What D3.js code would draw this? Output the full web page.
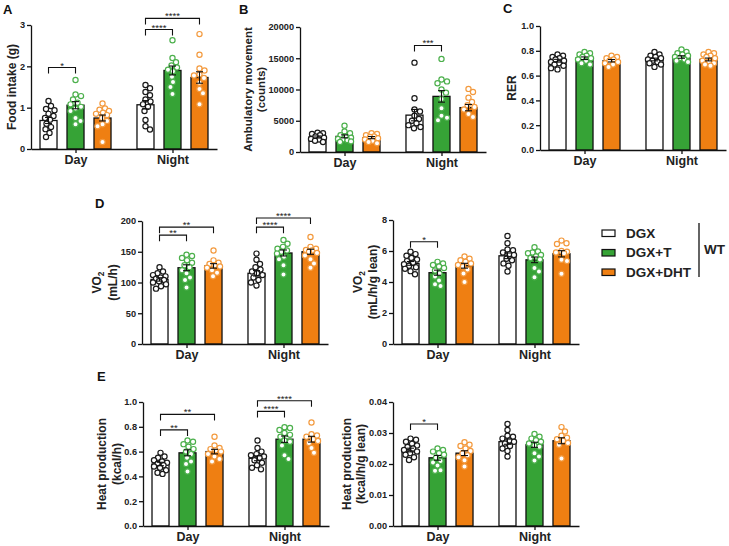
<!DOCTYPE html>
<html><head><meta charset="utf-8">
<script src="https://cdn.jsdelivr.net/npm/d3@7"></script>
<style>
html,body{margin:0;padding:0;background:#fff;}
svg{display:block;font-family:"Liberation Sans",Arial,sans-serif;}
</style></head>
<body>
<svg id="chart" width="729" height="546"></svg>
<script>
// ---------- data ----------
const groups = ["Day", "Night"];
const seriesNames = ["DGX", "DGX+T", "DGX+DHT"];
const barColors = ["#ffffff", "#36a336", "#ef7f12"];
const dotColors = ["#1a1a1a", "#4cb04c", "#f39a3e"];

// A: Food intake (g)
const foodTicks = [0, 1, 2, 3];
const foodMeans = [[0.69, 1.06, 0.75], [1.07, 1.90, 1.73]];
const foodDots = [
  [[1.16,1.04,0.97,0.94,0.85,0.8,0.75,0.71,0.61,0.53,0.48,0.39,0.29],
   [1.67,1.32,1.28,1.2,1.12,1.08,1.02,0.98,0.92,0.75,0.68,0.6],
   [1.1,0.98,0.95,0.92,0.88,0.85,0.82,0.75,0.68,0.6,0.55,0.17]],
  [[1.55,1.47,1.38,1.3,1.2,1.15,1.08,1.02,0.92,0.7,0.55,0.47],
   [2.63,2.2,2.1,2.02,1.97,1.92,1.88,1.75,1.62,1.5,1.33],
   [2.78,2.28,1.95,1.9,1.8,1.78,1.72,1.6,1.45,1.35,1.08]]
];
const foodSig = [[0,0,1,1.97,"*"],[1,0,1,2.89,"****"],[1,0,2,3.16,"****"]];

// B: Ambulatory movement (counts)
const ambTicks = [0, 5000, 10000, 15000, 20000];
const ambMeans = [[2400, 2500, 2300], [5900, 8900, 7100]];
const ambDots = [
  [[3100,3000,2900,2700,2500,2300,2100,2000,1800,1600],
   [4200,3300,3000,2700,2500,2300,2100,2000,1900,1700,1600],
   [3000,2900,2700,2500,2400,2200,2000,1800,1600,1400]],
  [[14300,8600,6800,6500,5800,5300,5000,4600,4300,4000,3800],
   [14900,11600,11300,11000,10000,9500,8500,7000,5800,5500,5100],
   [10100,9600,8700,8000,7500,7200,6800,6100,5600]]
];
const ambSig = [[1,0,1,17050,"***"]];

// C: RER
const rerTicks = [0, 0.2, 0.4, 0.6, 0.8, 1.0];
const rerMeans = [[0.72, 0.74, 0.72], [0.73, 0.75, 0.73]];
const rerDots = [
  [[0.77,0.76,0.75,0.74,0.73,0.72,0.71,0.70,0.69,0.68,0.66,0.65],
   [0.79,0.78,0.77,0.76,0.75,0.74,0.73,0.72,0.70,0.69],
   [0.76,0.75,0.74,0.73,0.72,0.71,0.70,0.69,0.67]],
  [[0.79,0.77,0.76,0.75,0.74,0.73,0.72,0.71,0.70,0.69,0.67],
   [0.81,0.79,0.78,0.77,0.76,0.75,0.74,0.73,0.72,0.71],
   [0.79,0.78,0.77,0.76,0.75,0.74,0.72,0.71,0.70,0.69,0.68]]
];
const rerSig = [];

// D left: VO2 (mL/h)
const vo2Ticks = [0, 50, 100, 150, 200];
const vo2Means = [[105, 124, 127], [115, 148, 150]];
const vo2Dots = [
  [[125,118,115,112,110,108,106,104,102,100,97,94,90],
   [145,143,140,136,132,128,125,120,115,108,104,92],
   [152,136,132,130,128,126,124,120,116,110]],
  [[147,137,130,125,121,118,115,112,108,104,100,95],
   [169,163,158,155,152,150,147,142,138,128,113],
   [174,158,155,153,152,150,148,144,138,131,124]]
];
const vo2Sig = [[0,0,1,177,"**"],[0,0,2,190,"**"],[1,0,1,190,"****"],[1,0,2,205,"****"]];

// D right: VO2 (mL/h/g lean)
const vo2LeanTicks = [0, 2, 4, 6, 8];
const vo2LeanMeans = [[5.2, 4.6, 5.05], [5.69, 5.43, 5.82]];
const vo2LeanDots = [
  [[5.95,5.8,5.7,5.55,5.45,5.35,5.25,5.15,5.05,4.95,4.85,4.7,4.5],
   [5.3,5.2,5.1,5.0,4.9,4.75,4.55,4.35,4.1,3.85,3.75],
   [5.65,5.5,5.4,5.3,5.2,5.1,5.0,4.8,4.55,4.0]],
  [[6.97,6.5,6.1,6.05,5.9,5.8,5.75,5.5,5.4,5.2,5.05,4.68],
   [6.24,5.97,5.9,5.85,5.75,5.64,5.55,5.45,4.9,4.68,4.3],
   [6.67,6.5,6.45,6.0,5.95,5.9,5.85,5.43,5.35,4.53]]
];
const vo2LeanSig = [[0,0,1,6.6,"*"]];

// E left: Heat production (kcal/h)
const heatTicks = [0, 0.2, 0.4, 0.6, 0.8, 1.0];
const heatMeans = [[0.50, 0.59, 0.60], [0.546, 0.70, 0.70]];
const heatDots = [
  [[0.59,0.56,0.55,0.53,0.52,0.51,0.50,0.49,0.48,0.47,0.45,0.43,0.42],
   [0.69,0.68,0.66,0.64,0.62,0.60,0.58,0.55,0.52,0.50,0.44],
   [0.72,0.65,0.63,0.62,0.61,0.60,0.58,0.56,0.54,0.52]],
  [[0.69,0.63,0.6,0.58,0.57,0.56,0.55,0.53,0.51,0.49,0.47,0.457],
   [0.797,0.79,0.775,0.75,0.735,0.72,0.69,0.68,0.65,0.57,0.54],
   [0.835,0.74,0.73,0.72,0.7,0.685,0.67,0.63,0.59]]
];
const heatSig = [[0,0,1,0.775,"**"],[0,0,2,0.9,"**"],[1,0,1,0.924,"****"],[1,0,2,1.01,"****"]];

// E right: Heat production (kcal/h/g lean)
const heatLeanTicks = [0, 0.01, 0.02, 0.03, 0.04];
const heatLeanMeans = [[0.0245, 0.022, 0.0235], [0.0272, 0.0262, 0.0275]];
const heatLeanDots = [
  [[0.0282,0.0278,0.0272,0.0265,0.026,0.0255,0.025,0.0245,0.024,0.0235,0.023,0.0222,0.0213],
   [0.025,0.0245,0.024,0.0235,0.023,0.022,0.021,0.0205,0.0195,0.018,0.0178],
   [0.027,0.0262,0.0258,0.025,0.0242,0.0235,0.0228,0.0222,0.0212,0.0192]],
  [[0.0329,0.031,0.0291,0.0288,0.0282,0.0276,0.0272,0.0266,0.0258,0.025,0.0242,0.0224],
   [0.0297,0.0288,0.0282,0.0277,0.0272,0.0266,0.026,0.0256,0.0235,0.0224,0.0211],
   [0.0319,0.0305,0.0291,0.0285,0.028,0.0275,0.0268,0.0262,0.0218]]
];
const heatLeanSig = [[0,0,1,0.0329,"*"]];

// ---------- layout ----------
const panels = [
  {letter:"A", lx:3, ly:14, x0:31, yTop:25, yBot:149, ticks:foodTicks, fmt:d3.format("d"),
   means:foodMeans, dots:foodDots, sig:foodSig, labels:[["Food intake (g)",16,12]]},
  {letter:"B", lx:239, ly:14, x0:300, yTop:27, yBot:152, ticks:ambTicks, fmt:d3.format("d"),
   means:ambMeans, dots:ambDots, sig:ambSig, labels:[["Ambulatory movement",252,11.5],["(counts)",265,11.5]]},
  {letter:"C", lx:503, ly:13, x0:540, yTop:26, yBot:150, ticks:rerTicks, fmt:d3.format(".1f"),
   means:rerMeans, dots:rerDots, sig:rerSig, labels:[["RER",516,12]]},
  {letter:"D", lx:95, ly:208, x0:142, yTop:221, yBot:344, ticks:vo2Ticks, fmt:d3.format("d"),
   means:vo2Means, dots:vo2Dots, sig:vo2Sig, labels:[["VO2",100.5,12],["(mL/h)",117,12]]},
  {letter:"", x0:393, yTop:220, yBot:344, ticks:vo2LeanTicks, fmt:d3.format("d"),
   means:vo2LeanMeans, dots:vo2LeanDots, sig:vo2LeanSig, labels:[["VO2",361.5,12],["(mL/h/g lean)",377,12]]},
  {letter:"E", lx:97, ly:381, x0:143, yTop:402, yBot:526, ticks:heatTicks, fmt:d3.format(".1f"),
   means:heatMeans, dots:heatDots, sig:heatSig, labels:[["Heat production",105.5,12],["(kcal/h)",120.5,12]]},
  {letter:"", x0:393, yTop:402, yBot:526, ticks:heatLeanTicks, fmt:d3.format(".2f"),
   means:heatLeanMeans, dots:heatLeanDots, sig:heatLeanSig, labels:[["Heat production",350.5,12],["(kcal/h/g lean)",365,12]]}
];

const svg = d3.select("#chart");
const AXW = 186, R = 2.6;

function beeswarm(vals, y, maxOff) {
  const pts = vals.map(v => ({v, y: y(v)})).sort((a, b) => a.y - b.y);
  const placed = [];
  const d = 2 * R + 0.2;
  const cands = [0];
  for (let k = 1; k <= 40; k++) { cands.push(k * 0.5, -k * 0.5); }
  for (const p of pts) {
    let best = null, bestScore = -Infinity;
    for (const c of cands) {
      if (Math.abs(c) > maxOff) continue;
      const m = placed.length ? d3.min(placed, q => Math.hypot(q.x - c, q.y - p.y)) : Infinity;
      if (m >= d) { best = c; break; }
      if (m > bestScore) { bestScore = m; best = c; }
    }
    p.x = best;
    placed.push(p);
  }
  return pts;
}

panels.forEach(P => {
  const g = svg.append("g");
  const yMax = P.ticks[P.ticks.length - 1];
  const y = d3.scaleLinear().domain([0, yMax]).range([P.yBot, P.yTop]);
  const xg = d3.scalePoint().domain(groups).range([P.x0, P.x0 + AXW]).padding(0.459);
  const xs = d3.scaleBand().domain(seriesNames).range([-40.5, 40.5]).paddingInner(0.37).paddingOuter(0.185);
  const bw = xs.bandwidth();

  // bars
  groups.forEach((grp, gi) => {
    seriesNames.forEach((s, si) => {
      const m = P.means[gi][si];
      const bx = xg(grp) + xs(s);
      g.append("rect").attr("x", bx).attr("y", y(m)).attr("width", bw).attr("height", P.yBot - y(m))
        .attr("fill", barColors[si]).attr("stroke", "#111").attr("stroke-width", 1.3);
    });
  });

  // dots
  groups.forEach((grp, gi) => {
    seriesNames.forEach((s, si) => {
      const cx = xg(grp) + xs(s) + bw / 2;
      const pts = beeswarm(P.dots[gi][si], y, 6.5);
      g.selectAll(null).data(pts).enter().append("circle")
        .attr("cx", p => cx + p.x).attr("cy", p => p.y).attr("r", R)
        .attr("fill", "#fff").attr("stroke", dotColors[si]).attr("stroke-width", 1.2);
    });
  });

  // error bars (mean ± SEM from points)
  groups.forEach((grp, gi) => {
    seriesNames.forEach((s, si) => {
      const vals = P.dots[gi][si];
      const sem = d3.deviation(vals) / Math.sqrt(vals.length);
      const m = P.means[gi][si];
      const cx = xg(grp) + xs(s) + bw / 2;
      const e = g.append("g").attr("stroke", "#111").attr("stroke-width", 1.1);
      e.append("line").attr("x1", cx).attr("x2", cx).attr("y1", y(m - sem)).attr("y2", y(m + sem));
      e.append("line").attr("x1", cx - 3.5).attr("x2", cx + 3.5).attr("y1", y(m + sem)).attr("y2", y(m + sem));
      e.append("line").attr("x1", cx - 3.5).attr("x2", cx + 3.5).attr("y1", y(m - sem)).attr("y2", y(m - sem));
    });
  });

  // y axis
  const ya = g.append("g").attr("transform", `translate(${P.x0},0)`)
    .call(d3.axisLeft(y).tickValues(P.ticks).tickFormat(P.fmt).tickSize(4).tickSizeOuter(0));
  ya.select(".domain").attr("stroke", "#111").attr("stroke-width", 1.3);
  ya.selectAll(".tick line").attr("stroke", "#111").attr("stroke-width", 1.3);
  ya.selectAll(".tick text").attr("font-family", "Liberation Sans, Arial, sans-serif")
    .attr("font-size", 9.2).attr("font-weight", "bold").attr("fill", "#222").attr("x", -6);

  // x axis
  const xa = g.append("g").attr("transform", `translate(0,${P.yBot})`)
    .call(d3.axisBottom(xg).tickSize(4).tickSizeOuter(0));
  xa.select(".domain").attr("stroke", "#111").attr("stroke-width", 1.3);
  xa.selectAll(".tick line").attr("stroke", "#111").attr("stroke-width", 1.3);
  xa.selectAll(".tick text").attr("font-family", "Liberation Sans, Arial, sans-serif")
    .attr("font-size", 12.5).attr("font-weight", "bold").attr("fill", "#222").attr("y", 6).attr("dy", "0.71em");

  // y label(s)
  const yc = (P.yTop + P.yBot) / 2;
  P.labels.forEach(([txt, bx, fs]) => {
    const t = g.append("text").attr("transform", `translate(${bx},${yc}) rotate(-90)`)
      .attr("text-anchor", "middle").attr("font-size", fs).attr("font-weight", "bold").attr("fill", "#222");
    if (txt === "VO2") {
      t.append("tspan").text("VO");
      t.append("tspan").attr("font-size", fs * 0.7).attr("dy", 3).text("2");
    } else {
      t.text(txt);
    }
  });

  // significance brackets
  P.sig.forEach(([gi, a, b, v, lab]) => {
    const xa1 = xg(groups[gi]) + xs(seriesNames[a]) + bw / 2;
    const xb1 = xg(groups[gi]) + xs(seriesNames[b]) + bw / 2;
    const yy = y(v);
    g.append("path").attr("d", `M${xa1},${yy + 6}V${yy}H${xb1}V${yy + 6}`)
      .attr("fill", "none").attr("stroke", "#111").attr("stroke-width", 1.1);
    g.append("text").attr("x", (xa1 + xb1) / 2).attr("y", yy + 1).attr("text-anchor", "middle")
      .attr("font-size", 9.5).attr("fill", "#222").text(lab);
  });

  if (P.letter) {
    svg.append("text").attr("x", P.lx).attr("y", P.ly).attr("font-size", 13).attr("font-weight", "bold")
      .attr("fill", "#111").text(P.letter);
  }
});

// legend
const legY = [233, 252.5, 272];
const leg = svg.append("g");
seriesNames.forEach((s, i) => {
  leg.append("rect").attr("x", 602).attr("y", legY[i] - 3).attr("width", 13).attr("height", 6.5)
    .attr("fill", barColors[i]).attr("stroke", "#111").attr("stroke-width", 1.2);
  leg.append("text").attr("x", 626).attr("y", legY[i] + 4.5).attr("font-size", 13.5).attr("font-weight", "bold")
    .attr("fill", "#222").text(s);
});
leg.append("line").attr("x1", 699).attr("x2", 699).attr("y1", 223).attr("y2", 277)
  .attr("stroke", "#111").attr("stroke-width", 1.3);
leg.append("text").attr("x", 704).attr("y", 254).attr("font-size", 13.5).attr("font-weight", "bold")
  .attr("fill", "#222").text("WT");
</script>
</body></html>
